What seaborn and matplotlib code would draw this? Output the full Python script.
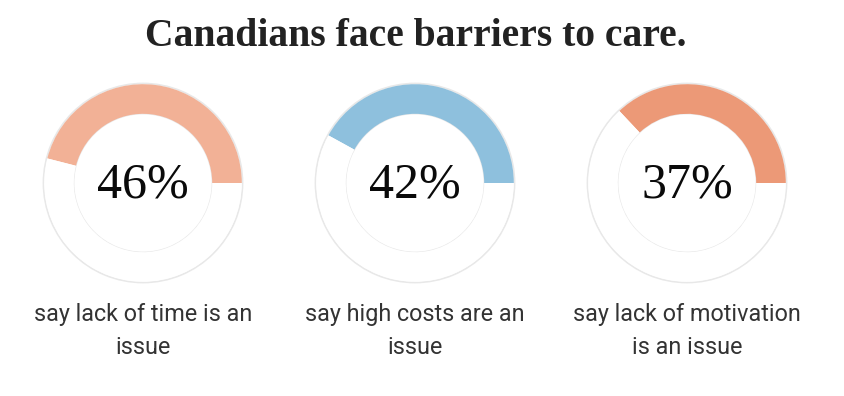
import matplotlib
matplotlib.use("Agg")
import matplotlib.pyplot as plt
import seaborn as sns

sns.set_theme(style="white")
plt.rcParams['font.family'] = ['Roboto', 'DejaVu Sans']

title = "Canadians face barriers to care."
values = [46, 42, 37]
labels = ["say lack of time is an\nissue", "say high costs are an\nissue", "say lack of motivation\nis an issue"]
colors = ["#F2B196", "#8EC0DD", "#EC9977"]

W, H = 845, 396
fig = plt.figure(figsize=(W / 100, H / 100), dpi=100)
fig.patch.set_facecolor("white")

centers_x = [143, 415, 687]
cy = 183
R = 100  # half box size in px

for i, (v, lab, col) in enumerate(zip(values, labels, colors)):
    cx = centers_x[i]
    ax = fig.add_axes([(cx - R) / W, (H - cy - R) / H, 2 * R / W, 2 * R / H])
    # faint gray outline ring (shadow)
    ax.pie([1], radius=0.995, colors=["white"], startangle=0,
           wedgeprops=dict(width=0.30, edgecolor="#e8e8e8", linewidth=1.3))
    ax.pie([v, 100 - v], radius=0.988, colors=[col, "white"], startangle=0,
           counterclock=True,
           wedgeprops=dict(width=0.296, edgecolor="none", linewidth=0))
    ax.set_xlim(-1, 1)
    ax.set_ylim(-1, 1)
    ax.set_aspect("equal")
    ax.axis("off")
    ax.text(0, -0.02, f"{v}%", ha="center", va="center", fontsize=36,
            family=["Liberation Serif", "DejaVu Serif"], color="#0a0a0a")
    fig.text(cx / W, 1 - 331 / H, lab, ha="center", va="center", fontsize=16.8,
             color="#333333", linespacing=1.6)

fig.text(416 / W, 1 - 37 / H, title, ha="center", va="center", fontsize=28.5,
         family=["Liberation Serif", "DejaVu Serif"], color="#222222", weight="bold")

fig.savefig("out.png", dpi=100, facecolor="white")
